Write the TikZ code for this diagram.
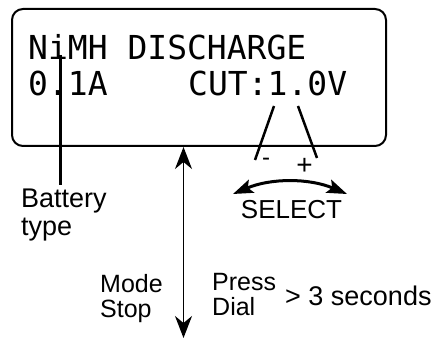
\documentclass[tikz,border=0pt]{standalone}
\usepackage{fontspec}
\setmainfont{Liberation Sans}
\newfontfamily\lcdfont{DejaVu Sans Mono}
\usepackage{tikz}
\usetikzlibrary{arrows.meta,positioning,calc}

\begin{document}
\begin{tikzpicture}[x=1pt,y=-1pt,
  lcdtext/.style={font=\lcdfont\fontsize{33}{36}\selectfont,anchor=base west,inner sep=0pt},
  note/.style={align=left,inner sep=0pt},
  pointer/.style={line width=2.5pt}]
  \useasboundingbox (0,0) rectangle (437,339);
  % LCD frame
  \node[draw,line width=2pt,rounded corners=11pt,minimum width=374pt,
    minimum height=137pt,inner sep=0pt] (lcd) at (199,77.5) {};
  % Display text
  \node[lcdtext] (chemistry) at (28,60) {NiMH DISCHARGE};
  \node[lcdtext] (current) at (28,96) {0.1A};
  \node[lcdtext] (cutoff) at (188,96) {CUT:1.0V};
  % Battery type
  \coordinate (typepin) at (60,55);
  \node[note,font=\fontsize{27}{28}\selectfont,anchor=north west] (battery) at (21,189) {Battery\\type};
  \draw[line width=3pt,shorten >=4pt] (typepin) -- (typepin |- battery.north);
  % Voltage adjust
  \coordinate (digitlo) at (274,106);
  \coordinate (digithi) at (298,106);
  \coordinate (minusend) at (255,160);
  \coordinate (plusend) at (317,158);
  \node[font=\fontsize{24}{24}\selectfont,anchor=base,inner sep=0pt] (minus) at (266,166) {-};
  \node[font=\fontsize{28}{28}\selectfont,inner sep=0pt] (plus) at (304.5,166) {+};
  \draw[pointer] (digitlo) -- (minusend);
  \draw[pointer] (digithi) -- (plusend);
  \node[font=\fontsize{26}{26}\selectfont,anchor=base,inner sep=0pt] (select) at (291.5,219) {SELECT};
  \coordinate (selleft) at (233,194);
  \coordinate (selright) at (347,194);
  \draw[line width=3pt,{Stealth[length=20pt,width=14pt,inset=4pt]}-{Stealth[length=20pt,width=14pt,inset=4pt]}]
    (selleft) .. controls (271,178) and (309,178) .. (selright);
  % Hold the dial
  \coordinate (holdend) at (183.5,338);
  \draw[line width=1.5pt,{Stealth[length=22pt,width=17pt,inset=7pt]}-{Stealth[length=22pt,width=17pt,inset=7pt]}]
    (holdend |- lcd.south) -- (holdend);
  \node[note,font=\fontsize{25}{25}\selectfont,anchor=north west] (stop) at (100,274) {Mode\\Stop};
  \node[note,font=\fontsize{25}{25}\selectfont,anchor=north west] (press) at (212,273) {Press\\Dial};
  \node[note,font=\fontsize{27}{28}\selectfont,anchor=base west] (seconds) at (285,306) {> 3 seconds};
\end{tikzpicture}
\end{document}
